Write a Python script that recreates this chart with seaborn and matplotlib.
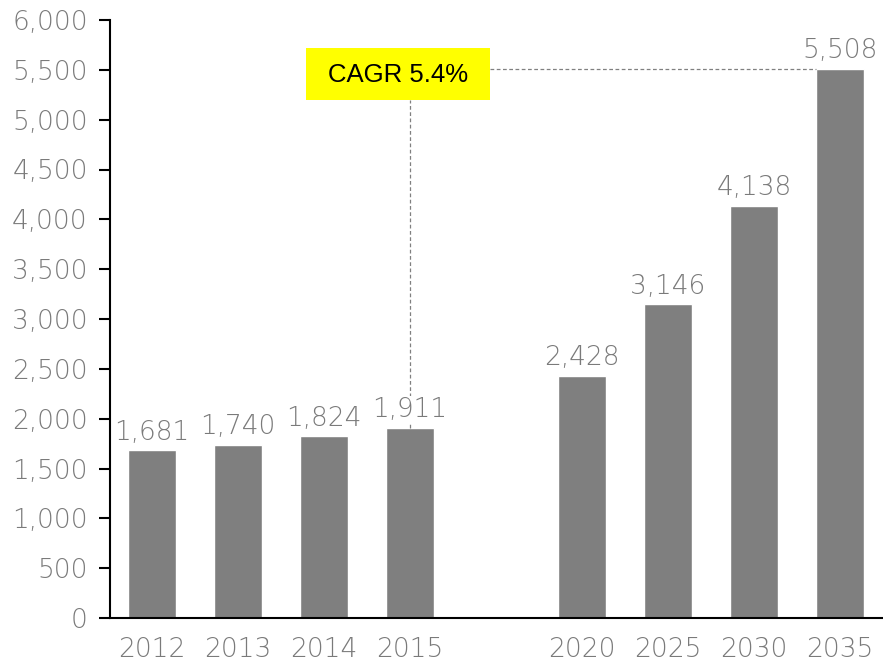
import matplotlib
matplotlib.use("Agg")
import matplotlib.pyplot as plt
import matplotlib.patches as mpatches
import seaborn as sns
import numpy as np
import pandas as pd

categories = ["2012", "2013", "2014", "2015", " ", "2020", "2025", "2030", "2035"]
values = [1681, 1740, 1824, 1911, np.nan, 2428, 3146, 4138, 5508]
yticks = [0, 500, 1000, 1500, 2000, 2500, 3000, 3500, 4000, 4500, 5000, 5500, 6000]
cagr_text = "CAGR 5.4%"

sns.set_theme(style="white")
plt.rcParams['font.family'] = ['DejaVu Sans']
plt.rcParams['font.weight'] = 'light'

df = pd.DataFrame({"year": categories, "value": values})

fig = plt.figure(figsize=(8.83, 6.61), dpi=100)
ax = fig.add_axes([110/883, 1 - 618/661, 1 - 110/883, (618 - 20)/661])

sns.barplot(data=df.dropna(), x="year", y="value", order=categories,
            color="#7f7f7f", saturation=1, width=0.555, ax=ax)

gray = "#7a7a7a"
fs = 19
ax.set_ylim(0, 6000)
ax.set_xlim(-0.49, 8.5)
ax.set_yticks(yticks)
ax.set_yticklabels([f"{v:,}" for v in yticks], color=gray, fontsize=fs, fontweight="light")
for t in ax.get_xticklabels():
    t.set_fontweight("light")
ax.set_xlabel("")
ax.set_ylabel("")
ax.tick_params(axis="x", bottom=False, length=0, labelsize=fs, labelcolor=gray, pad=14)
ax.tick_params(axis="y", left=True, length=8, width=1.5, direction="out", color="black", pad=8)
for s in ["top", "right"]:
    ax.spines[s].set_visible(False)
for s in ["left", "bottom"]:
    ax.spines[s].set_color("black")
    ax.spines[s].set_linewidth(1.5)

for i, v in enumerate(values):
    if np.isnan(v):
        continue
    ax.annotate(f"{int(v):,}", xy=(i, v), xytext=(0, 4), textcoords="offset points",
                ha="center", va="bottom", color=gray, fontsize=fs, fontweight="light",
                bbox=dict(boxstyle="square,pad=0.02", fc="white", ec="none"), zorder=5)

# CAGR connector lines
i2015 = categories.index("2015")
i2035 = categories.index("2035")
ax.plot([i2015, i2015], [values[i2015], 5197], ls=(0, (3, 2)), color="#808080", lw=0.9, zorder=2)
ax.plot([3.93, i2035 - 0.2775], [values[i2035], values[i2035]], ls=(0, (3, 2)), color="#808080", lw=0.9, zorder=2)
ax.add_patch(mpatches.Rectangle((1.79, 5197), 3.93 - 1.79, 5719 - 5197,
                                facecolor="#ffff00", edgecolor="none", zorder=6))
ax.text(2.86, 5450, cagr_text, ha="center", va="center", fontsize=18.5, color="black",
        fontweight="normal", family=["Liberation Sans", "DejaVu Sans"], zorder=7)

fig.savefig("out.png", dpi=100)
